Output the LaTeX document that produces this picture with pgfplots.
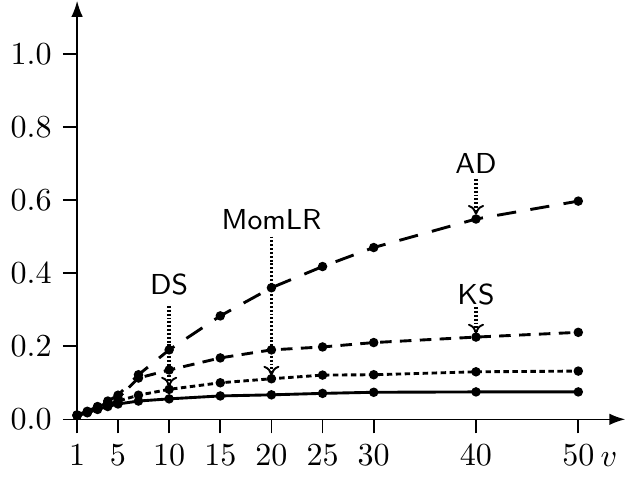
\documentclass[border=0pt]{standalone}
\usepackage{pgfplots}
\usepackage{pgfplotstable}
\pgfplotsset{compat=1.18}
\usetikzlibrary{arrows.meta}

% rejection rates of the four tests against v
\pgfplotstableread{
v    AD     KS     DS     SOL
1    0.012  0.011  0.011  0.010
2    0.022  0.020  0.019  0.018
3    0.035  0.033  0.030  0.027
4    0.050  0.046  0.040  0.035
5    0.066  0.058  0.050  0.042
7    0.122  0.113  0.066  0.050
10   0.190  0.135  0.082  0.056
15   0.283  0.168  0.100  0.064
20   0.360  0.190  0.111  0.067
25   0.418  0.198  0.121  0.071
30   0.470  0.210  0.122  0.074
40   0.548  0.225  0.130  0.075
50   0.597  0.238  0.132  0.075
}\rates

\begin{document}
\begin{tikzpicture}
\begin{axis}[
  x=3.19pt, y=114pt,
  xmin=1, xmax=54.6, ymin=0, ymax=1.145,
  axis lines=left,
  axis line style={line width=0.5pt, -{Latex[length=5pt,width=3.6pt]}},
  tick align=outside,
  tick style={black, line width=0.5pt},
  major tick length=4.4pt,
  xtick={1,5,10,15,20,25,30,40,50},
  ytick={0,0.2,0.4,0.6,0.8,1.0},
  yticklabel style={/pgf/number format/.cd, fixed, fixed zerofill, precision=1},
  clip=false,
  every axis plot/.append style={line width=0.9pt, mark=*, mark size=1.0pt,
    mark options={solid}},
]
\addplot[black, dash pattern=on 6pt off 4.5pt] table[x=v, y=AD] {\rates};
\addplot[black, dash pattern=on 3.6pt off 2.6pt] table[x=v, y=KS] {\rates};
\addplot[black, dash pattern=on 1.7pt off 1.1pt] table[x=v, y=DS] {\rates};
\addplot[black] table[x=v, y=SOL] {\rates};

% labels with dotted pointers
\tikzset{pointer/.style={line width=1.2pt, dash pattern=on 0.6pt off 0.6pt,
  -{To[length=3pt,width=5pt,line width=0.6pt]}}}
\node[font=\sffamily\small] at (axis cs:40,0.70) {AD};
\draw[pointer] (axis cs:40,0.657) -- (axis cs:40,0.560);
\node[font=\sffamily\small] at (axis cs:40,0.342) {KS};
\draw[pointer] (axis cs:40,0.307) -- (axis cs:40,0.235);
\node[font=\sffamily\small] at (axis cs:10,0.370) {DS};
\draw[pointer] (axis cs:10,0.310) -- (axis cs:10,0.090);
\node[font=\sffamily\small] at (axis cs:20,0.545) {MomLR};
\draw[pointer] (axis cs:20,0.500) -- (axis cs:20,0.120);

\node[anchor=base] at (axis cs:53,-0.128) {$v$};
\end{axis}
\end{tikzpicture}
\end{document}
